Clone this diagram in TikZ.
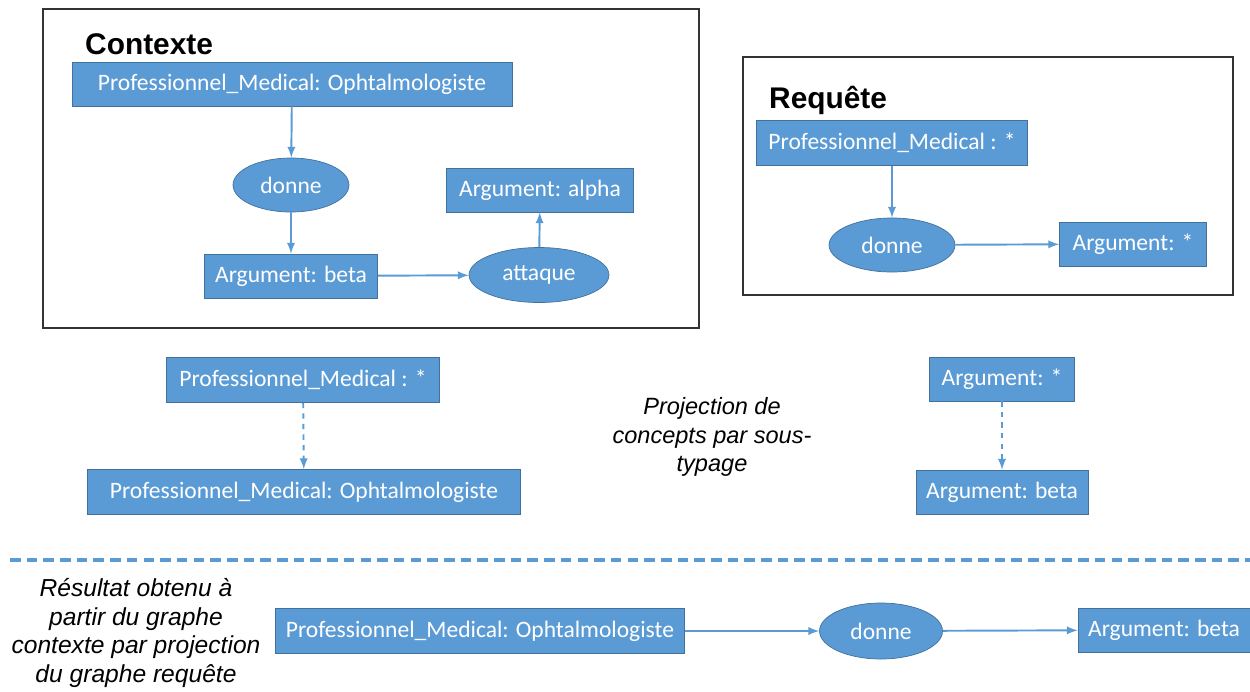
\documentclass[tikz,border=0pt]{standalone}
\usepackage{fontspec}
\setmainfont{Carlito}
\newfontfamily\arialfont{Liberation Sans}
\usepackage{xcolor}
\definecolor{textcolor}{HTML}{FFFFFF}
\definecolor{boxfill}{HTML}{5B9BD5}
\definecolor{boxline}{HTML}{41719C}
\usetikzlibrary{arrows, positioning, calc, shapes.geometric}

\begin{document}
\begin{tikzpicture}
        [
          x=0.02cm, y=-0.02cm,
          concept/.style={draw=boxline, fill=boxfill, text=textcolor, inner sep=0pt,
            minimum height=0.88cm, font=\fontsize{13.4}{16}\selectfont},
          relation/.style={ellipse, draw=boxline, fill=boxfill, text=textcolor, inner sep=0pt,
            minimum height=1.08cm, font=\fontsize{13.4}{16}\selectfont},
          link/.style={->, >=latex, boxfill, line width=1.1pt},
          frame/.style={draw=black!80, line width=0.9pt},
          title/.style={anchor=west, font=\arialfont\bfseries\fontsize{17}{20}\selectfont},
          note/.style={align=center, font=\arialfont\itshape\fontsize{13.4}{16.4}\selectfont}
        ]
        \useasboundingbox (0,0) rectangle (1250,691);

        % contexte
        \draw[frame] (43,9) rectangle (699,328);
        \node[title] (ctx) at (79,44) {Contexte};
        \node[concept, minimum width=8.8cm] (cpm) at (292,84) {Professionnel\_Medical: Ophtalmologiste};
        \node[relation, minimum width=2.32cm] (cdonne) at (291,185) {donne};
        \node[concept, minimum width=3.74cm] (calpha) at (540,190) {Argument: alpha};
        \node[concept, minimum width=3.46cm] (cbeta) at (291,276) {Argument: beta};
        \node[relation, minimum width=2.8cm, minimum height=1.1cm] (cattaque) at (539,275) {attaque};

        \path[link]
                          (cpm) edge (cdonne)
                          (cdonne) edge (cbeta)
                          (cbeta) edge (cattaque)
                          (cattaque) edge (calpha);

        % requete
        \draw[frame] (743,57) rectangle (1233,295);
        \node[title] (req) at (763,100) {Requête};
        \node[concept, minimum width=5.42cm, minimum height=0.9cm] (rpm) at (892,143) {Professionnel\_Medical : *};
        \node[relation, minimum width=2.52cm] (rdonne) at (892,245) {donne};
        \node[concept, minimum width=2.94cm] (rarg) at (1133,244) {Argument: *};

        \path[link]
                          (rpm) edge (rdonne)
                          (rdonne) edge (rarg);

        % projection
        \node[concept, minimum width=5.46cm, minimum height=0.9cm] (ppm) at (303,380) {Professionnel\_Medical : *};
        \node[concept, minimum width=8.66cm, minimum height=0.9cm] (pophta) at (304,492) {Professionnel\_Medical: Ophtalmologiste};
        \node[concept, minimum width=2.9cm] (parg) at (1002,379) {Argument: *};
        \node[concept, minimum width=3.44cm] (pbeta) at (1002,492) {Argument: beta};
        \node[note] (proj) at (712,437) {Projection de\\concepts par sous-\\typage};

        \path[link, dashed]
                          (ppm) edge (pophta)
                          (parg) edge (pbeta);

        % resultat
        \coordinate (sepa) at (10,560);
        \coordinate (sepb) at (1250,560);
        \draw[boxfill, line width=1.8pt, dash pattern=on 6pt off 3.5pt] (sepa) -- (sepb);
        \node[note, font=\arialfont\itshape\fontsize{14}{16.3}\selectfont] (res) at (136,633)
          {Résultat obtenu à\\partir du graphe\\contexte par projection\\du graphe requête};
        \node[concept, minimum width=8.18cm, minimum height=0.9cm] (bpm) at (480,631) {Professionnel\_Medical: Ophtalmologiste};
        \node[relation, minimum width=2.46cm, minimum height=1.12cm] (bdonne) at (881,631) {donne};
        \node[concept, minimum width=3.44cm] (bbeta) at (1164,630) {Argument: beta};

        \path[link]
                          (bpm) edge (bdonne)
                          (bdonne) edge (bbeta);
      \end{tikzpicture}
\end{document}
